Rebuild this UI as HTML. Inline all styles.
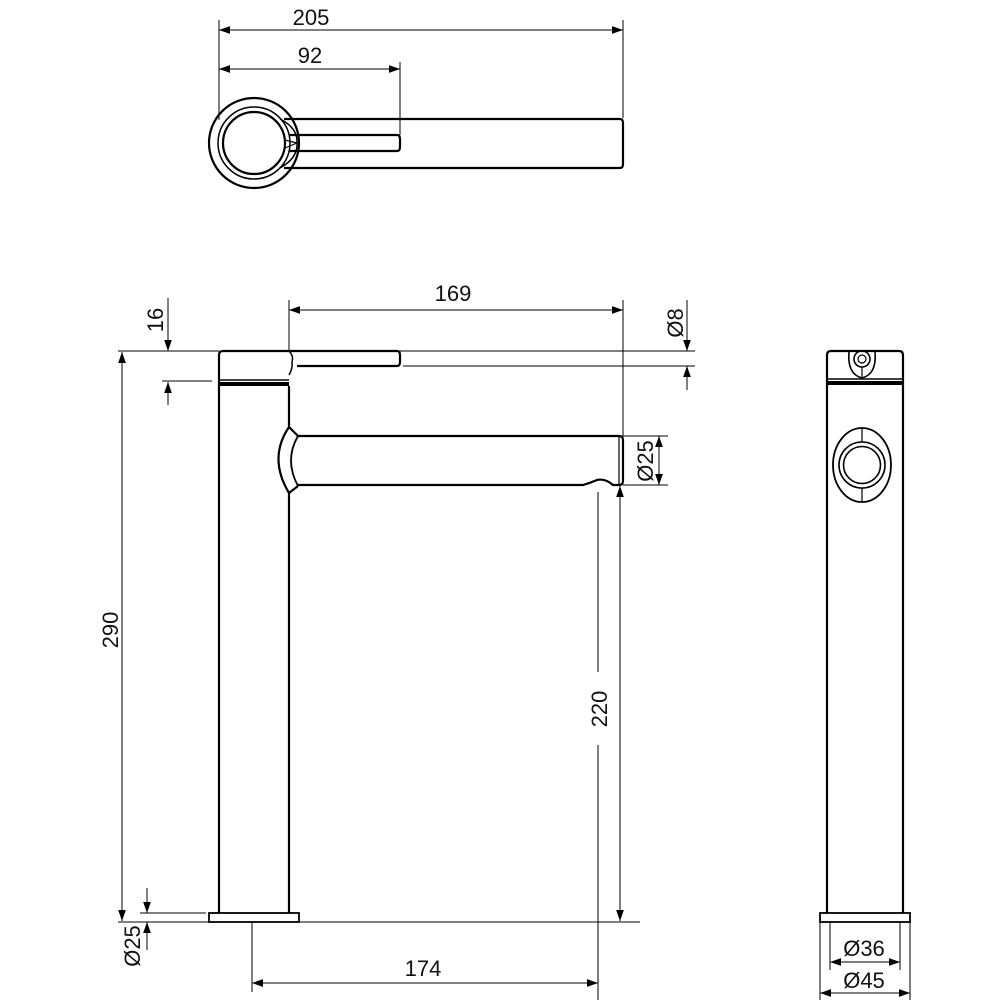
<!DOCTYPE html>
<html><head><meta charset="utf-8"><style>
html,body{margin:0;padding:0;background:#fff;}
svg{display:block;}
text{font-family:"Liberation Sans",sans-serif;font-size:22px;fill:#111;}
</style></head><body>
<svg width="1000" height="1000" viewBox="0 0 1000 1000" xmlns="http://www.w3.org/2000/svg">
<defs>
<marker id="a" viewBox="0 0 10 10" refX="10" refY="5" markerWidth="11" markerHeight="11" markerUnits="userSpaceOnUse" orient="auto-start-reverse"><path d="M0,1.5 L10,5 L0,8.5 z" fill="#000"/></marker>
</defs>
<g stroke="#000" fill="none">
<g stroke-width="1">
<line x1="219" y1="20" x2="219" y2="120"/>
<line x1="623" y1="20" x2="623" y2="118"/>
<line x1="400" y1="62" x2="400" y2="135"/>
<line x1="219" y1="30" x2="623" y2="30" marker-start="url(#a)" marker-end="url(#a)"/>
<line x1="219" y1="69" x2="400" y2="69" marker-start="url(#a)" marker-end="url(#a)"/>
</g>
<g stroke-width="2.2">
<circle cx="254" cy="143" r="45"/>
<circle cx="254" cy="143" r="36" stroke-width="1.5"/>
<circle cx="254" cy="143" r="31"/>
<path d="M284,119 H620 Q623,119 623,123 V164 Q623,168 620,168 H284"/>
<path d="M289,135 H397 Q400,135 400,139 V147 Q400,151 397,151 H289"/>
<path d="M280,119 Q298,128 297,143 Q298,158 280,168" stroke-width="1.5"/>
<line x1="285" y1="140" x2="297" y2="143" stroke-width="1.2"/>
<line x1="285" y1="148" x2="297" y2="143" stroke-width="1.2"/>
</g>

<g stroke-width="1">
<line x1="118" y1="351" x2="219" y2="351"/>
<line x1="162" y1="381" x2="212" y2="381"/>
<line x1="168" y1="298" x2="168" y2="351" marker-end="url(#a)"/>
<line x1="168" y1="405" x2="168" y2="382" marker-end="url(#a)"/>
<line x1="289" y1="300" x2="289" y2="351"/>
<line x1="623" y1="300" x2="623" y2="436"/>
<line x1="289" y1="310" x2="623" y2="310" marker-start="url(#a)" marker-end="url(#a)"/>
<line x1="400" y1="351" x2="695" y2="351"/>
<line x1="403" y1="366" x2="695" y2="366"/>
<line x1="687" y1="300" x2="687" y2="351" marker-end="url(#a)"/>
<line x1="687" y1="390" x2="687" y2="366" marker-end="url(#a)"/>
<line x1="623" y1="436" x2="668" y2="436"/>
<line x1="623" y1="485" x2="668" y2="485"/>
<line x1="659" y1="436" x2="659" y2="485" marker-start="url(#a)" marker-end="url(#a)"/>
<line x1="620" y1="486" x2="620" y2="921" marker-start="url(#a)" marker-end="url(#a)"/>
<line x1="598" y1="492" x2="598" y2="672"/>
<line x1="598" y1="745" x2="598" y2="1000"/>
<line x1="118" y1="922" x2="640" y2="922"/>
<line x1="122" y1="352" x2="122" y2="921" marker-start="url(#a)" marker-end="url(#a)"/>
<line x1="140" y1="913" x2="206" y2="913"/>
<line x1="147" y1="888" x2="147" y2="913" marker-end="url(#a)"/>
<line x1="147" y1="950" x2="147" y2="922" marker-end="url(#a)"/>
<line x1="252" y1="922" x2="252" y2="992"/>
<line x1="252" y1="983" x2="598" y2="983" marker-start="url(#a)" marker-end="url(#a)"/>
</g>
<g stroke-width="2.2">
<path d="M219,913 V355 Q219,351 223,351 H289"/>
<line x1="219" y1="380" x2="289" y2="380" stroke-width="1.5"/>
<rect x="219" y="382" width="70" height="4" fill="#000" stroke="none"/>
<path d="M289,386 V427 Q268,458 289,493 V913"/>
<path d="M298,436 Q284,460 298,486" stroke-width="1.8"/>
<line x1="289" y1="427" x2="298" y2="436"/>
<line x1="289" y1="493" x2="298" y2="486"/>
<path d="M298,436 H619 Q623,436 623,440 V481 Q623,485 619,485 H613 Q605,478 597,480 Q590,483 583,485 H298"/>
<line x1="619" y1="437" x2="619" y2="484" stroke-width="1.2"/>
<path d="M289,351 H397 Q400,351 400,355 V362 Q400,366 397,366 H297"/>
<path d="M289,351 Q294,356 292,362 Q293,368 289,375" stroke-width="1.5"/>
<rect x="209" y="913" width="90" height="9" stroke-width="1.8"/>
</g>

<g stroke-width="2.2">
<path d="M827,913 V355 Q827,351 831,351 H899 Q903,351 903,355 V913"/>
<line x1="827" y1="379" x2="903" y2="379" stroke-width="1.5"/>
<rect x="827" y="381" width="76" height="4" fill="#000" stroke="none"/>
<path d="M849,352 Q847,374 862,378 Q877,374 875,352" stroke-width="1.6"/>
<circle cx="862" cy="359" r="8" stroke-width="1.6"/>
<circle cx="862" cy="359" r="4" stroke-width="1.2"/>
<line x1="862" y1="367" x2="862" y2="378" stroke-width="1.2"/>
<ellipse cx="862" cy="465" rx="29" ry="37" stroke-width="1.8"/>
<circle cx="862" cy="465" r="23" stroke-width="1.6"/>
<circle cx="862" cy="465" r="18.5" stroke-width="1.6"/>
<line x1="862" y1="428" x2="862" y2="442" stroke-width="1.2"/>
<line x1="862" y1="488" x2="862" y2="502" stroke-width="1.2"/>
<rect x="820" y="913" width="90" height="9" stroke-width="1.8"/>
</g>
<g stroke-width="1">
<line x1="830" y1="922" x2="830" y2="970"/>
<line x1="900" y1="922" x2="900" y2="970"/>
<line x1="820" y1="922" x2="820" y2="1000"/>
<line x1="910" y1="922" x2="910" y2="1000"/>
<line x1="830" y1="962" x2="900" y2="962" marker-start="url(#a)" marker-end="url(#a)"/>
<line x1="820" y1="993" x2="910" y2="993" marker-start="url(#a)" marker-end="url(#a)"/>
</g>
</g>

<text x="311" y="25" text-anchor="middle">205</text>
<text x="310" y="63" text-anchor="middle">92</text>
<text x="453" y="301" text-anchor="middle">169</text>
<text transform="translate(163,320) rotate(-90)" text-anchor="middle">16</text>
<text transform="translate(683,323) rotate(-90)" text-anchor="middle">Ø8</text>
<text transform="translate(653,461) rotate(-90)" text-anchor="middle">Ø25</text>
<text transform="translate(607,709) rotate(-90)" text-anchor="middle">220</text>
<text transform="translate(118,630) rotate(-90)" text-anchor="middle">290</text>
<text transform="translate(140,946) rotate(-90)" text-anchor="middle">Ø25</text>
<text x="423" y="976" text-anchor="middle">174</text>
<text x="864" y="956" text-anchor="middle">Ø36</text>
<text x="864" y="988" text-anchor="middle">Ø45</text>
</svg>
</body></html>
